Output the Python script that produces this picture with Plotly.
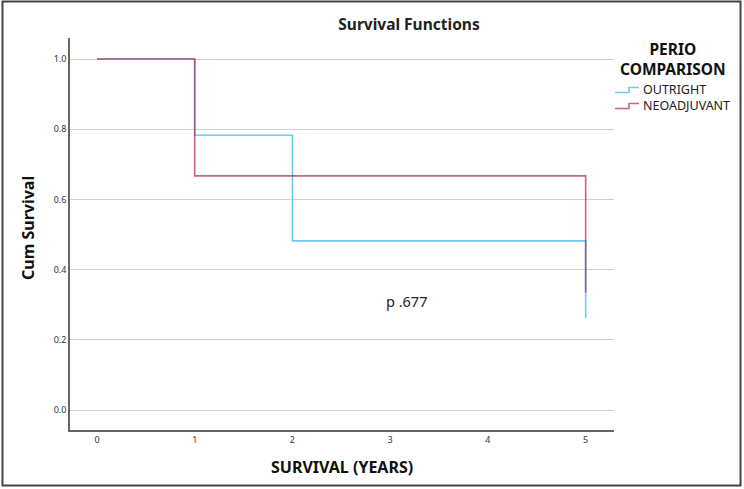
import plotly.graph_objects as go

# Data
outright_t = [0, 1, 2, 5, 5]
outright_s = [1.0, 0.783, 0.482, 0.482, 0.262]
neo_t = [0, 1, 5, 5]
neo_s = [1.0, 0.667, 0.667, 0.334]
y_ticks = [0.0, 0.2, 0.4, 0.6, 0.8, 1.0]
x_ticks = [0, 1, 2, 3, 4, 5]
series_names = ["OUTRIGHT", "NEOADJUVANT"]
legend_title = ["PERIO", "COMPARISON"]
p_text = "p .677"

W, H = 744, 489
L, R, T, B = 70, 130, 38, 59
pw, ph = W - L - R, H - T - B

BLUE = "#6ecaef"
PINK = "rgba(172,42,92,0.72)"
FONT = "Noto Sans"


def px(x):
    return (x - L) / pw


def py(y):
    return (H - B - y) / ph


fig = go.Figure()
fig.add_trace(go.Scatter(x=outright_t, y=outright_s, mode="lines", line_shape="hv",
                         name=series_names[0], showlegend=False,
                         line=dict(color=BLUE, width=1.6)))
fig.add_trace(go.Scatter(x=neo_t, y=neo_s, mode="lines", line_shape="hv",
                         name=series_names[1], showlegend=False,
                         line=dict(color=PINK, width=1.6)))

fig.add_annotation(x=3.17, y=0.31, text=p_text, showarrow=False,
                   font=dict(family=FONT, size=14.5, color="#222"))
fig.add_annotation(xref="paper", yref="paper", x=px(28), y=py(228), text="<b>Cum Survival</b>",
                   textangle=-90, showarrow=False, xanchor="center", yanchor="middle",
                   font=dict(family=FONT, size=16, color="#111"))
fig.add_annotation(xref="paper", yref="paper", x=px(342), y=py(467), text="<b>SURVIVAL (YEARS)</b>",
                   showarrow=False, xanchor="center", yanchor="middle",
                   font=dict(family=FONT, size=16, color="#111"))

# legend (drawn manually to get the step-shaped keys)
fig.add_annotation(xref="paper", yref="paper", x=px(673), y=py(59),
                   text="<b>" + "<br>".join(legend_title) + "</b>", align="center",
                   showarrow=False, xanchor="center", yanchor="middle",
                   font=dict(family=FONT, size=15.5, color="#111"))
fig.add_annotation(xref="paper", yref="paper", x=px(641), y=py(98),
                   text="<br>".join(series_names), align="left",
                   showarrow=False, xanchor="left", yanchor="middle",
                   font=dict(family=FONT, size=12.5, color="#222"))
for col, yc in [(BLUE, 90), (PINK, 106)]:
    path = "M {} {} L {} {} L {} {} L {} {}".format(
        px(615), py(yc + 2.5), px(629), py(yc + 2.5), px(629), py(yc - 2.5), px(639), py(yc - 2.5))
    fig.add_shape(type="path", xref="paper", yref="paper", path=path,
                  line=dict(color=col, width=1.6))

# outer frame
fig.add_shape(type="rect", xref="paper", yref="paper", x0=px(2.5), x1=px(740.5), y0=py(485.5), y1=py(1.5),
              line=dict(color="#444", width=2), fillcolor="rgba(0,0,0,0)", layer="above")

fig.update_layout(
    width=W, height=H,
    margin=dict(l=L, r=R, t=T, b=B),
    paper_bgcolor="white", plot_bgcolor="white",
    showlegend=False,
    title=dict(text="<b>Survival Functions</b>", x=409 / W, xanchor="center",
               y=1 - 25 / H, yanchor="middle",
               font=dict(family=FONT, size=15.5, color="#222")),
    font=dict(family=FONT, color="#333"),
    xaxis=dict(range=[-0.276, 5.29], tickvals=x_ticks, showgrid=False, zeroline=False,
               showline=True, linecolor="#666", linewidth=1.5, ticks="",
               tickfont=dict(size=9, color="#333")),
    yaxis=dict(range=[-0.057, 1.06], tickvals=y_ticks, tickformat=".1f", showgrid=True,
               gridcolor="#cfcfcf", gridwidth=1, zeroline=False,
               showline=True, linecolor="#666", linewidth=1.5, ticks="",
               tickfont=dict(size=9, color="#333")),
)

fig.write_html("out.html")
